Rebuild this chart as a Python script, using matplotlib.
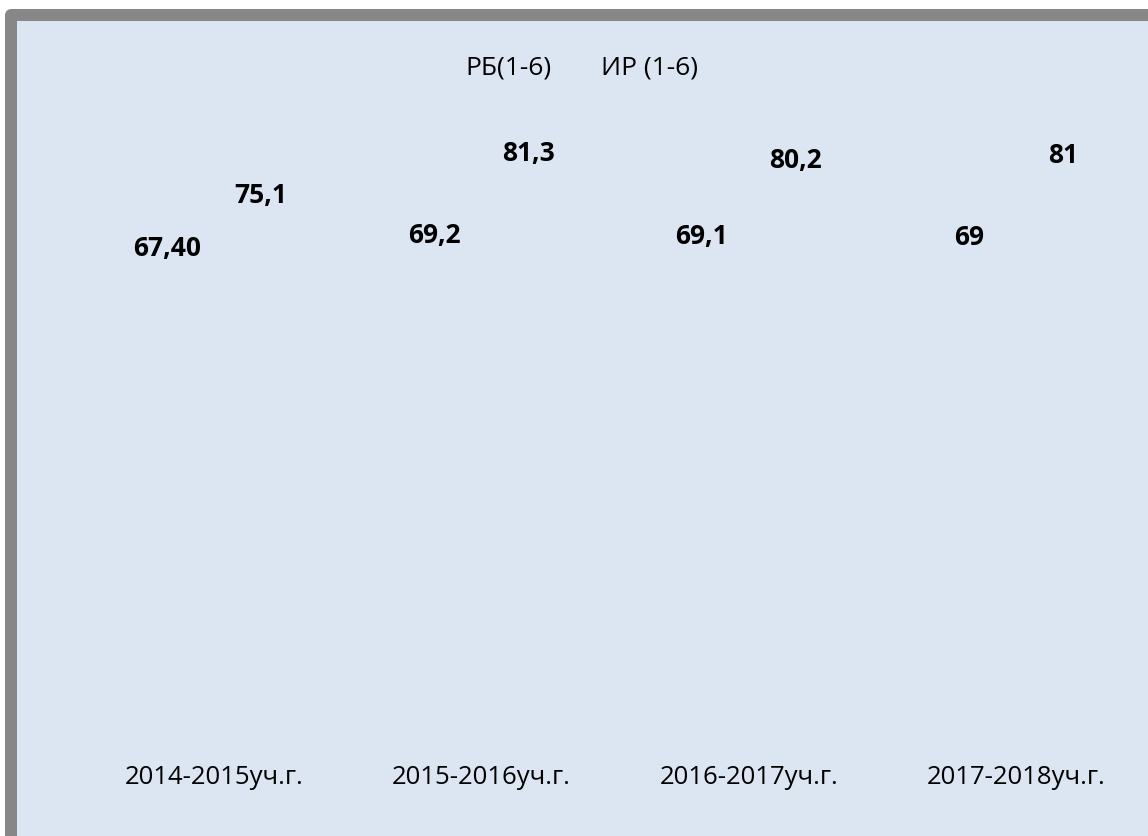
import numpy as np
import matplotlib
matplotlib.use('Agg')
import matplotlib.pyplot as plt
from matplotlib.patches import Rectangle

# данные диаграммы
годы = ['2014-2015уч.г.', '2015-2016уч.г.', '2016-2017уч.г.', '2017-2018уч.г.']
рб = [67.40, 69.2, 69.1, 69]
ир = [75.1, 81.3, 80.2, 81]
подписи_рб = ['67,40', '69,2', '69,1', '69']
подписи_ир = ['75,1', '81,3', '80,2', '81']

plt.rcParams['font.family'] = ['Open Sans', 'DejaVu Sans']

fig = plt.figure(figsize=(11.48, 8.36), dpi=100)
fig.patch.set_facecolor('white')

# рамка с заливкой (в пикселях), под осями
рамка = Rectangle((11, -20), 1159, 841, transform=None,
                  facecolor='#dce6f2', edgecolor='#878787',
                  linewidth=12 * 72 / 100, joinstyle='round', zorder=-5)
fig.patches.append(рамка)

ax = fig.add_axes([80 / 1148, 0.1328, 1070 / 1148, 0.7356])
ax.patch.set_alpha(0)

x = np.arange(len(годы))
w = 0.35
# столбцы невидимые, как на исходной картинке
b1 = ax.bar(x - w / 2, рб, w, color='none', label='РБ(1-6)')
b2 = ax.bar(x + w / 2, ир, w, color='none', label='ИР (1-6)')

ax.bar_label(b1, labels=подписи_рб, padding=2, fontsize=19, fontweight='bold')
ax.bar_label(b2, labels=подписи_ир, padding=2, fontsize=19, fontweight='bold')

ax.set_xlim(-0.5, 3.5)
ax.set_ylim(0, 90)
ax.set_xticks(x)
ax.set_xticklabels(годы, fontsize=18.5)
ax.set_yticks([])
ax.tick_params(axis='x', length=0, pad=29)
for s in ax.spines.values():
    s.set_visible(False)

fig.legend(loc='center', bbox_to_anchor=(566 / 1148, 0.919), ncol=2,
           frameon=False, fontsize=19, handlelength=0.7, handletextpad=0.5,
           columnspacing=0.7, borderpad=0)

plt.savefig('out.png', dpi=100)
